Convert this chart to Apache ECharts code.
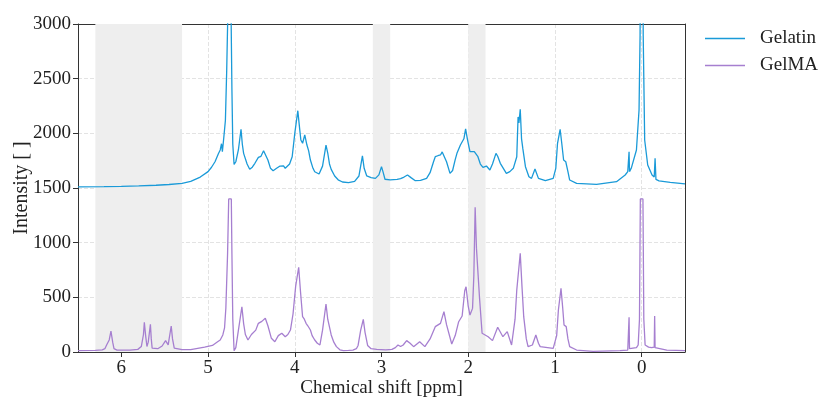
<!DOCTYPE html>
<html>
<head>
<meta charset="utf-8">
<title>Gelatin vs GelMA 1H NMR</title>
<script src="https://cdn.jsdelivr.net/npm/echarts@6/dist/echarts.min.js"></script>
<style>
  html, body { margin: 0; padding: 0; background: #fff; }
  #chart { width: 818px; height: 399px; }
</style>
</head>
<body>
<div id="chart"></div>
<script>
/* ── Data (ppm, intensity) ────────────────────────────────── */
// Gelatin is plotted with a +1500 offset, as in the original figure
const gelatin = [
  [6.5,1510],[6.2,1512],[6.0,1515],[5.8,1519],[5.6,1525],[5.45,1532],[5.3,1543],[5.2,1560],
  [5.09,1600],[5.0,1650],[4.96,1690],[4.92,1740],[4.88,1815],[4.86,1848],[4.845,1905],[4.835,1832],
  [4.82,1950],[4.80,2120],[4.785,2580],[4.772,3100],[4.755,8000],[4.735,3100],[4.725,2400],[4.715,1900],
  [4.70,1715],[4.68,1740],[4.65,1850],[4.62,2037],[4.605,1900],[4.59,1817],[4.55,1720],[4.52,1671],
  [4.49,1690],[4.46,1726],[4.42,1780],[4.39,1790],[4.36,1840],[4.345,1852],[4.31,1756],[4.28,1680],
  [4.25,1658],[4.21,1680],[4.17,1701],[4.15,1695],[4.13,1703],[4.11,1680],[4.09,1665],[4.06,1720],
  [4.03,1786],[4.0,2000],[3.965,2207],[3.945,2050],[3.93,1939],[3.91,1909],[3.885,1985],[3.86,1893],
  [3.84,1840],[3.82,1756],[3.79,1680],[3.77,1649],[3.72,1628],[3.68,1700],[3.64,1893],[3.62,1820],
  [3.60,1720],[3.58,1670],[3.54,1610],[3.50,1575],[3.45,1555],[3.38,1550],[3.31,1560],[3.26,1610],
  [3.22,1793],[3.20,1680],[3.17,1610],[3.12,1595],[3.07,1588],[3.03,1620],[3.00,1695],[2.98,1640],
  [2.96,1580],[2.90,1575],[2.82,1579],[2.78,1585],[2.74,1600],[2.70,1619],[2.66,1595],[2.61,1567],
  [2.55,1570],[2.48,1588],[2.44,1640],[2.40,1740],[2.38,1786],[2.35,1795],[2.32,1802],[2.30,1830],
  [2.28,1848],[2.25,1740],[2.21,1634],[2.18,1660],[2.15,1760],[2.13,1817],[2.09,1893],[2.07,1875],
  [2.05,1950],[2.03,2040],[2.01,1950],[1.98,1832],[1.93,1832],[1.89,1790],[1.86,1719],[1.83,1689],
  [1.79,1701],[1.75,1665],[1.72,1720],[1.68,1817],[1.66,1790],[1.63,1726],[1.56,1634],[1.52,1650],
  [1.48,1680],[1.44,1786],[1.425,2150],[1.415,2095],[1.40,2219],[1.385,1950],[1.37,1860],[1.34,1695],
  [1.30,1603],[1.27,1588],[1.23,1674],[1.19,1588],[1.11,1567],[1.02,1588],[0.99,1680],[0.97,1909],
  [0.94,2037],[0.92,1900],[0.90,1756],[0.875,1740],[0.85,1650],[0.83,1573],[0.75,1543],[0.52,1534],
  [0.29,1558],[0.19,1619],[0.16,1650],[0.15,1660],[0.145,1832],[0.14,1650],[0.12,1680],[0.06,1848],
  [0.03,2213],[0.018,2900],[0.0,8000],[-0.018,2900],[-0.035,1939],[-0.07,1710],[-0.12,1619],[-0.145,1600],
  [-0.155,1771],[-0.165,1579],[-0.2,1565],[-0.33,1552],[-0.5,1537]
];

const gelma = [
  [6.5,12],[6.3,14],[6.22,20],[6.19,30],[6.17,64],[6.155,55],[6.14,110],[6.12,190],[6.10,90],
  [6.085,30],[6.05,18],[5.9,18],[5.81,24],[5.77,50],[5.745,160],[5.735,272],[5.72,150],[5.705,50],
  [5.69,90],[5.665,253],[5.655,120],[5.645,35],[5.58,30],[5.53,55],[5.49,104],[5.46,65],[5.44,80],
  [5.425,238],[5.41,120],[5.39,35],[5.3,22],[5.2,22],[5.04,45],[4.95,60],[4.89,94],[4.86,110],
  [4.83,156],[4.81,220],[4.795,400],[4.775,900],[4.762,1400],[4.732,1400],[4.725,900],[4.715,300],
  [4.70,12],[4.68,40],[4.65,200],[4.61,414],[4.59,260],[4.57,160],[4.54,110],[4.50,160],[4.48,171],
  [4.45,200],[4.42,262],[4.38,280],[4.34,308],[4.31,240],[4.27,125],[4.23,94],[4.19,150],[4.15,171],
  [4.13,180],[4.11,140],[4.08,160],[4.05,201],[4.02,350],[3.99,600],[3.955,775],[3.935,560],[3.91,323],
  [3.89,300],[3.87,262],[3.85,240],[3.82,201],[3.80,150],[3.77,110],[3.74,80],[3.71,64],[3.68,200],
  [3.64,439],[3.62,300],[3.58,156],[3.55,90],[3.52,49],[3.48,20],[3.44,12],[3.38,15],[3.33,18],
  [3.29,30],[3.27,60],[3.24,200],[3.21,299],[3.19,180],[3.16,60],[3.12,30],[3.055,24],[2.95,20],
  [2.88,24],[2.84,40],[2.81,64],[2.78,50],[2.75,64],[2.71,104],[2.67,80],[2.63,49],[2.56,94],
  [2.50,49],[2.44,120],[2.38,232],[2.32,262],[2.28,369],[2.25,250],[2.19,73],[2.15,150],[2.11,277],
  [2.07,329],[2.04,560],[2.025,597],[2.00,420],[1.98,338],[1.95,399],[1.935,700],[1.92,1323],
  [1.905,950],[1.89,933],[1.87,500],[1.84,171],[1.77,140],[1.72,104],[1.66,226],[1.60,140],
  [1.55,186],[1.50,64],[1.46,300],[1.44,567],[1.40,903],[1.38,600],[1.36,323],[1.33,120],[1.31,49],
  [1.26,64],[1.22,156],[1.19,80],[1.17,49],[1.02,33],[0.98,150],[0.96,384],[0.93,582],[0.91,400],
  [0.895,247],[0.87,232],[0.85,120],[0.83,49],[0.75,18],[0.56,5],[0.25,12],[0.16,18],[0.15,30],
  [0.145,317],[0.14,30],[0.13,24],[0.06,40],[0.04,64],[0.025,300],[0.015,1400],[-0.015,1400],
  [-0.025,300],[-0.04,64],[-0.08,45],[-0.115,40],[-0.145,45],[-0.15,329],[-0.155,40],[-0.165,33],
  [-0.29,18],[-0.5,12]
];

// grey bands (ppm ranges)
const shadedBands = [[6.3, 5.3], [3.1, 2.9], [2.0, 1.8]];
const xTicks = [0, 1, 2, 3, 4, 5, 6];

/* ── Chart ─────────────────────────────────────────────── */
const FONT = '"Liberation Serif", "DejaVu Serif", serif';
const INK = "#222";
const SPINE = "#333";
const GRIDLINE = { show: true, lineStyle: { type: "dashed", color: "#e3e3e3" } };
const chart = echarts.init(document.getElementById("chart"));

chart.setOption({
  animation: false,
  backgroundColor: "#fff",
  textStyle: { fontFamily: FONT, color: INK },
  grid: { left: 78, right: 133, top: 24, bottom: 47, outerBoundsMode: "none", containLabel: false },
  legend: {
    orient: "vertical",
    left: 705, top: 29,
    padding: 0,
    icon: "rect",
    itemWidth: 40, itemHeight: 1.5,
    itemGap: 8,
    textStyle: { fontFamily: FONT, fontSize: 19, color: INK, lineHeight: 19, padding: [0, 0, 0, 10] },
    data: ["Gelatin", "GelMA"],
  },
  xAxis: [
    {
      type: "value",
      inverse: true,
      min: -0.5, max: 6.5,
      splitNumber: 7,
      name: "Chemical shift [ppm]",
      nameLocation: "middle",
      nameGap: 27,
      nameMoveOverlap: false,
      nameTextStyle: { fontFamily: FONT, fontSize: 19, color: INK },
      axisLine: { onZero: false, lineStyle: { color: SPINE } },
      axisTick: { show: true, length: 5, customValues: xTicks, lineStyle: { color: SPINE } },
      axisLabel: { fontFamily: FONT, fontSize: 19, color: INK, margin: 7, customValues: xTicks },
      splitLine: GRIDLINE,
    },
    {
      // top spine only
      type: "value", position: "top", inverse: true,
      min: -0.5, max: 6.5,
      axisLine: { show: true, onZero: false, lineStyle: { color: SPINE } },
      axisTick: { show: false }, axisLabel: { show: false }, splitLine: { show: false },
    },
  ],
  yAxis: [
    {
      type: "value",
      min: 0, max: 3000, interval: 500,
      name: "Intensity [ ]",
      nameLocation: "middle",
      nameGap: 46,
      nameMoveOverlap: false,
      nameTextStyle: { fontFamily: FONT, fontSize: 20, color: INK },
      axisLine: { show: true, onZero: false, lineStyle: { color: SPINE } },
      axisTick: { show: true, length: 5, lineStyle: { color: SPINE } },
      axisLabel: { fontFamily: FONT, fontSize: 19, color: INK, margin: 7, formatter: (v) => String(v) },
      splitLine: GRIDLINE,
    },
    {
      // right spine only
      type: "value", position: "right",
      min: 0, max: 3000,
      axisLine: { show: true, onZero: false, lineStyle: { color: SPINE } },
      axisTick: { show: false }, axisLabel: { show: false }, splitLine: { show: false },
    },
  ],
  series: [
    {
      name: "Gelatin",
      type: "line",
      data: gelatin,
      symbol: "none",
      clip: true,
      color: "#1a9ad8",
      lineStyle: { width: 1.3, color: "#1a9ad8" },
      markArea: {
        silent: true,
        itemStyle: { color: "#eeeeee" },
        data: shadedBands.map(([a, b]) => [{ xAxis: a }, { xAxis: b }]),
      },
      z: 3,
    },
    {
      name: "GelMA",
      type: "line",
      data: gelma,
      symbol: "none",
      clip: true,
      color: "#a67fd0",
      lineStyle: { width: 1.3, color: "#a67fd0" },
      z: 3,
    },
  ],
});
</script>
</body>
</html>
